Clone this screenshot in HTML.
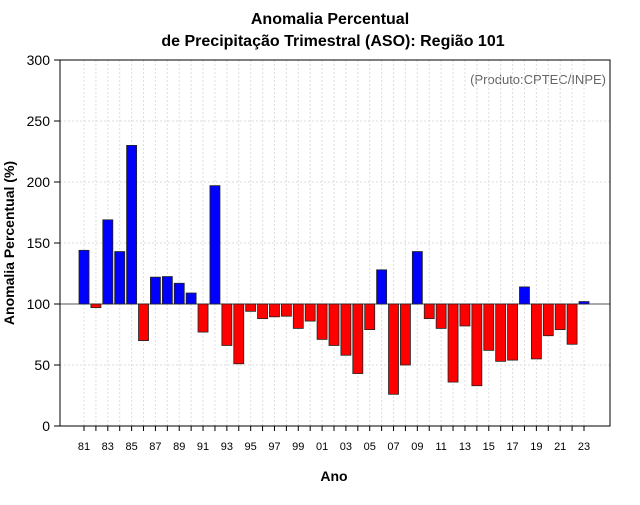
<!DOCTYPE html>
<html><head><meta charset="utf-8"><style>
body{margin:0;background:#fff;font-family:"Liberation Sans",sans-serif}
</style></head><body>
<svg id="c" width="640" height="500" xmlns="http://www.w3.org/2000/svg">
<text x="330" y="24" text-anchor="middle" font-size="16" font-weight="bold">Anomalia Percentual</text>
<text x="333" y="46" text-anchor="middle" font-size="16" font-weight="bold">de Precipitação Trimestral (ASO): Região 101</text>
<text x="606" y="84" text-anchor="end" font-size="13" fill="#666">(Produto:CPTEC/INPE)</text>
<text x="334" y="481" text-anchor="middle" font-size="14" font-weight="bold">Ano</text>
<text transform="translate(14,243) rotate(-90)" text-anchor="middle" font-size="14" font-weight="bold">Anomalia Percentual (%)</text>
<g id="g"></g>
</svg>
<script>
const years=["81","82","83","84","85","86","87","88","89","90","91","92","93","94","95","96","97","98","99","00","01","02","03","04","05","06","07","08","09","10","11","12","13","14","15","16","17","18","19","20","21","22","23"];
const values=[144,97,169,143,230,70,122,122.5,117,109,77,197,66,51,94,88,89.5,90,80,86,71,66,58,43,79,128,26,50,143,88,80,36,82,33,62,53,54,114,55,74,79,67,102];
const yTicks=[0,50,100,150,200,250,300];
const NS="http://www.w3.org/2000/svg";
const g=document.getElementById('g');
const L=60,R=610,T=60,B=426;
const y=v=>B-(v/300)*(B-T);
const x=i=>84+i*(500/42);
function el(t,a){const e=document.createElementNS(NS,t);for(const k in a)e.setAttribute(k,a[k]);g.appendChild(e);return e;}
yTicks.forEach(t=>{
 const l=el('line',{x1:L,x2:R,y1:y(t),y2:y(t),stroke:'#ddd','stroke-dasharray':'2,2'});
 
 
 const tk=el('line',{x1:L-6,x2:L,y1:y(t),y2:y(t),stroke:'#000'});
 
 
 const tx=el('text',{x:L-10,y:y(t)+5,'text-anchor':'end','font-size':14});
 tx.textContent=t;
 
 
});
years.forEach((yr,i)=>{
 const l=el('line',{x1:x(i),x2:x(i),y1:T,y2:B,stroke:'#ddd','stroke-dasharray':'2,2'});
 
 
 const tk=el('line',{x1:x(i),x2:x(i),y1:B,y2:B+5,stroke:'#000'});
 
 
 if(i%2==0){const tx=el('text',{x:x(i),y:B+24,'text-anchor':'middle','font-size':11});
 tx.textContent=yr;
 
 }
});
const bl=el('line',{x1:L,x2:R,y1:y(100),y2:y(100),stroke:'#555'});


values.forEach((v,i)=>{
 const top=Math.min(y(v),y(100)),h=Math.abs(y(v)-y(100));
 const r=el('rect',{x:x(i)-5,y:top,width:10,height:Math.max(h,1),fill:v>=100?'#0000ff':'#ff0000',stroke:'#222','stroke-width':0.8});
 
 
});
const f=el('rect',{x:L,y:T,width:R-L,height:B-T,fill:'none',stroke:'#000'});


</script>
</body></html>
